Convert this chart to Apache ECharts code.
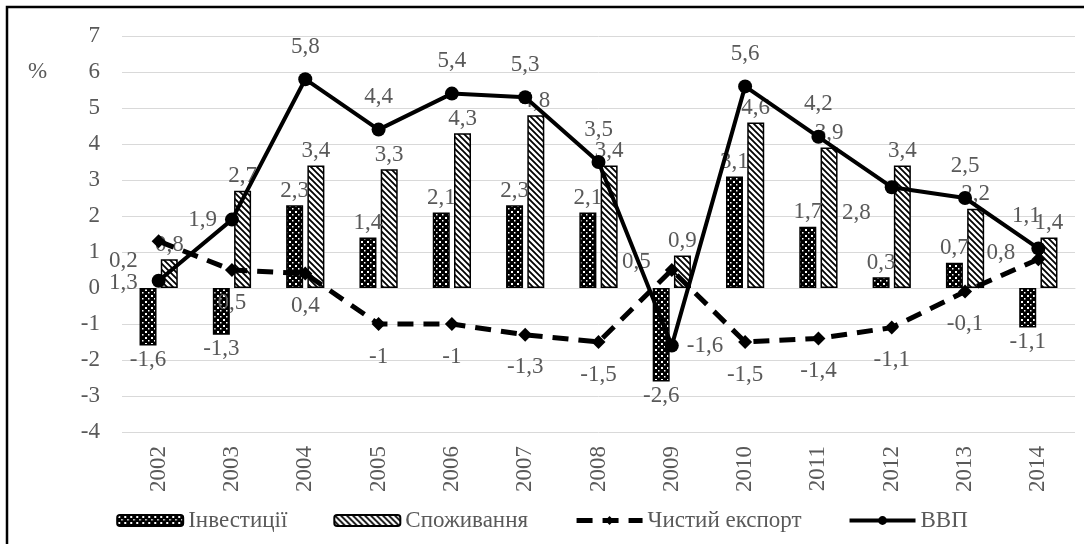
<!DOCTYPE html>
<html>
<head>
  <meta charset="utf-8" />
  <style>
    html, body { margin: 0; width: 100%; height: 100%; background: #fff; }
    #chart { width: 1084px; height: 544px; }
  </style>
  <script src="https://cdn.jsdelivr.net/npm/echarts@6/dist/echarts.min.js"></script>
</head>
<body>
<div id="chart"></div>
<script>
  // дані
  const years = ['2002', '2003', '2004', '2005', '2006', '2007', '2008', '2009', '2010', '2011', '2012', '2013', '2014'];
  const investments = [-1.6, -1.3, 2.3, 1.4, 2.1, 2.3, 2.1, -2.6, 3.1, 1.7, 0.3, 0.7, -1.1];
  const consumption = [0.8, 2.7, 3.4, 3.3, 4.3, 4.8, 3.4, 0.9, 4.6, 3.9, 3.4, 2.2, 1.4];
  const netExport = [1.3, 0.5, 0.4, -1, -1, -1.3, -1.5, 0.5, -1.5, -1.4, -1.1, -0.1, 0.8];
  const gdp = [0.2, 1.9, 5.8, 4.4, 5.4, 5.3, 3.5, -1.6, 5.6, 4.2, 2.8, 2.5, 1.1];
  const yTicks = [-4, -3, -2, -1, 0, 1, 2, 3, 4, 5, 6, 7];

  // ручне розміщення окремих підписів (як в Excel)
  const gdpLabelTweaks = {
    0: { position: 'left', offset: [0, -20] },
    1: { position: 'left', distance: 8 },
    7: { position: 'right', distance: 8 },
    10: { position: 'left', offset: [0, 26] },
    12: { position: 'top', offset: [-12, 0] }
  };
  const exportLabelTweaks = {
    0: { position: 'left', offset: [0, 42] },
    7: { position: 'left', offset: [0, -8] },
    12: { position: 'left', offset: [-2, -6] }
  };

  const FONT = '"Liberation Serif", "Times New Roman", serif';
  const GREY = '#595959';
  const FS = 23;
  const comma = v => String(v).replace('.', ',');

  // візерунки для стовпців
  function dotsPattern() {
    const c = document.createElement('canvas');
    c.width = 6; c.height = 6;
    const g = c.getContext('2d');
    g.fillStyle = '#000';
    g.fillRect(0, 0, 6, 6);
    g.fillStyle = '#fff';
    g.fillRect(1, 1, 2, 2);
    g.fillRect(4, 4, 1.5, 1.5);
    return c;
  }
  function stripesPattern() {
    const c = document.createElement('canvas');
    c.width = 6; c.height = 6;
    const g = c.getContext('2d');
    g.fillStyle = '#fff';
    g.fillRect(0, 0, 6, 6);
    g.strokeStyle = '#000';
    g.lineWidth = 1.8;
    g.beginPath();
    g.moveTo(-1, -1); g.lineTo(7, 7);
    g.moveTo(-4, 2); g.lineTo(4, 10);
    g.moveTo(2, -4); g.lineTo(10, 4);
    g.stroke();
    return c;
  }

  const barLabel = {
    show: true,
    fontFamily: FONT, fontSize: FS, color: GREY,
    distance: 3,
    formatter: p => comma(p.value)
  };
  const barData = arr => arr.map(v => ({
    value: v,
    label: { position: v < 0 ? 'bottom' : 'top' }
  }));
  const lineData = (arr, tweaks) => arr.map((v, i) => (
    tweaks[i] ? { value: v, label: tweaks[i] } : v
  ));

  let chart = echarts.init(document.getElementById('chart'));

  option = {
    animation: false,
    textStyle: { fontFamily: FONT },
    graphic: [{
      type: 'rect',
      shape: { x: 7, y: 7, width: 1090, height: 550 },
      style: { fill: 'none', stroke: '#000', lineWidth: 2.5 }
    }, {
      type: 'text', left: 28, top: 60,
      style: { text: '%', fontFamily: FONT, fontSize: FS, fill: GREY }
    }],
    grid: { left: 122, right: 9, top: 36, bottom: 112 },
    legend: {
      bottom: 7,
      left: 'center',
      itemWidth: 66,
      itemHeight: 11,
      itemGap: 46,
      textStyle: { fontFamily: FONT, fontSize: FS, color: GREY },
      lineStyle: { width: 'inherit', type: 'inherit' },
      data: ['Інвестиції', 'Споживання', 'Чистий експорт', 'ВВП']
    },
    xAxis: {
      type: 'category',
      data: years,
      axisLine: { onZero: true, lineStyle: { color: '#d9d9d9' } },
      axisTick: { show: false },
      axisLabel: {
        rotate: 90, fontFamily: FONT, fontSize: FS, color: GREY,
        margin: 14
      },
      position: 'bottom'
    },
    yAxis: {
      type: 'value',
      min: yTicks[0],
      max: yTicks[yTicks.length - 1],
      interval: 1,
      axisLine: { show: false },
      axisTick: { show: false },
      splitLine: { lineStyle: { color: '#d9d9d9', width: 1 } },
      axisLabel: { fontFamily: FONT, fontSize: FS, color: GREY, margin: 22 }
    },
    series: [{
      name: 'Інвестиції',
      type: 'bar',
      data: barData(investments),
      barWidth: 17,
      barGap: '25%',
      itemStyle: { color: { image: dotsPattern(), repeat: 'repeat' }, borderColor: '#000', borderWidth: 1.5 },
      label: barLabel
    }, {
      name: 'Споживання',
      type: 'bar',
      data: barData(consumption),
      barWidth: 17,
      itemStyle: { color: { image: stripesPattern(), repeat: 'repeat' }, borderColor: '#000', borderWidth: 1.5 },
      label: barLabel
    }, {
      name: 'Чистий експорт',
      type: 'line',
      data: lineData(netExport, exportLabelTweaks),
      symbol: 'diamond',
      symbolSize: 14,
      itemStyle: { color: '#000' },
      lineStyle: { color: '#000', width: 5, type: [16, 10] },
      label: {
        show: true, position: 'bottom', distance: 14,
        fontFamily: FONT, fontSize: FS, color: GREY,
        formatter: p => comma(p.value)
      },
      z: 3
    }, {
      name: 'ВВП',
      type: 'line',
      data: lineData(gdp, gdpLabelTweaks),
      symbol: 'circle',
      symbolSize: 14,
      itemStyle: { color: '#000' },
      lineStyle: { color: '#000', width: 4 },
      label: {
        show: true, position: 'top', distance: 14,
        fontFamily: FONT, fontSize: FS, color: GREY,
        formatter: p => comma(p.value)
      },
      z: 4
    }]
  };

  chart.setOption(option);
</script>
</body>
</html>
